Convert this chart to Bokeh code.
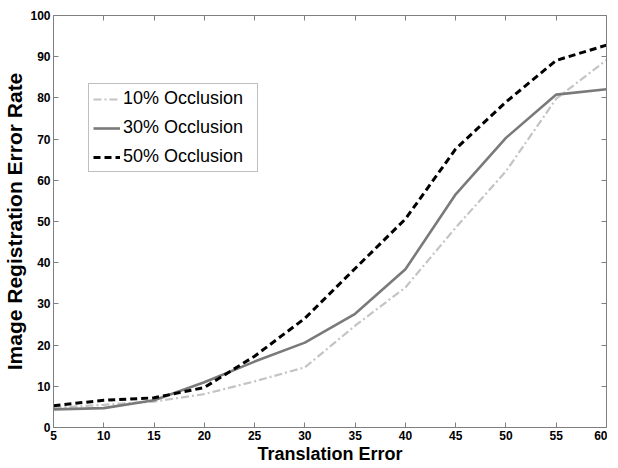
from bokeh.plotting import figure
from bokeh.models import LinearAxis, FixedTicker, Range1d, Legend, LegendItem
from bokeh.embed import file_html
from bokeh.resources import INLINE

x_vals = [5, 10, 15, 20, 25, 30, 35, 40, 45, 50, 55, 60]
occ10 = [4.8, 5.5, 6.3, 8.1, 11.2, 14.6, 24.7, 34.0, 48.5, 62.2, 79.8, 89.2]
occ30 = [4.4, 4.7, 6.6, 11.0, 16.0, 20.6, 27.6, 38.4, 56.6, 70.3, 80.8, 82.1]
occ50 = [5.3, 6.6, 7.2, 9.7, 17.3, 26.5, 38.6, 50.6, 67.6, 79.0, 89.1, 92.8]
x_ticks = [5, 10, 15, 20, 25, 30, 35, 40, 45, 50, 55, 60]
y_ticks = [0, 10, 20, 30, 40, 50, 60, 70, 80, 90, 100]
labels = ["10% Occlusion", "30% Occlusion", "50% Occlusion"]

AX = "#7f7f7f"

p = figure(frame_width=553, frame_height=412, output_backend="svg", toolbar_location=None,
           x_range=Range1d(5, 60), y_range=Range1d(0, 100),
           min_border_left=47, min_border_right=1, min_border_top=15, min_border_bottom=0)
p.xgrid.visible = False
p.ygrid.visible = False
p.outline_line_color = None
p.background_fill_color = "white"
p.border_fill_color = "white"

xa = p.xaxis[0]
ya = p.yaxis[0]
xa.ticker = FixedTicker(ticks=x_ticks)
ya.ticker = FixedTicker(ticks=y_ticks)
for ax in (xa, ya):
    ax.axis_line_color = AX
    ax.major_tick_line_color = AX
    ax.major_tick_in = 5
    ax.major_tick_out = 0
    ax.minor_tick_line_color = None
    ax.major_label_text_font = "Liberation Sans"
    ax.major_label_text_font_style = "bold"
    ax.major_label_text_font_size = "12px"
    ax.major_label_text_color = "black"
    ax.axis_label_text_font = "Liberation Sans"
    ax.axis_label_text_font_style = "bold"
    ax.axis_label_text_color = "black"
xa.major_label_standoff = 3
ya.major_label_standoff = 3
xa.axis_label = "Translation Error"
xa.axis_label_text_font_size = "18px"
xa.axis_label_standoff = 1
ya.axis_label = "Image Registration Error Rate"
ya.axis_label_text_font_size = "21px"
ya.axis_label_standoff = 1

top = LinearAxis(ticker=FixedTicker(ticks=x_ticks))
right = LinearAxis(ticker=FixedTicker(ticks=y_ticks))
for ax in (top, right):
    ax.axis_line_color = AX
    ax.major_tick_line_color = AX
    ax.major_tick_in = 5
    ax.major_tick_out = 0
    ax.minor_tick_line_color = None
    ax.major_label_text_alpha = 0
    ax.major_label_text_font_size = "0px"
    ax.major_label_standoff = 0
p.add_layout(top, "above")
p.add_layout(right, "right")

r10 = p.line(x_vals, occ10, line_color="#c4c4c4", line_width=2.2, line_dash="8 3 2 3")
r30 = p.line(x_vals, occ30, line_color="#7a7a7a", line_width=2.6)
r50 = p.line(x_vals, occ50, line_color="black", line_width=3, line_dash="7 4")

legend = Legend(items=[LegendItem(label=labels[0], renderers=[r10]),
                       LegendItem(label=labels[1], renderers=[r30]),
                       LegendItem(label=labels[2], renderers=[r50])],
                location=(35, 255))
legend.label_text_font = "Liberation Sans"
legend.label_text_font_size = "18px"
legend.label_text_color = "black"
legend.border_line_color = AX
legend.border_line_width = 1
legend.padding = 4
legend.margin = 0
legend.spacing = 8
legend.label_height = 20
legend.glyph_height = 20
legend.glyph_width = 27
legend.label_standoff = 3
legend.label_width = 130
legend.background_fill_color = "white"
p.add_layout(legend, "center")

open("out.html", "w").write(file_html(p, INLINE))
